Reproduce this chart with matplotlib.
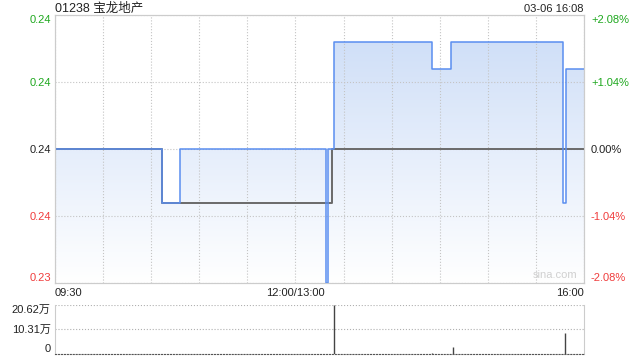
import numpy as np
import matplotlib
matplotlib.use('Agg')
import matplotlib.pyplot as plt
from matplotlib.colors import LinearSegmentedColormap

plt.rcParams['font.family'] = ['Liberation Sans', 'Noto Sans CJK SC']

title = '01238 宝龙地产'
stamp = '03-06 16:08'

# trading minutes since 09:30 (lunch break removed), value from that minute on
price_t = [0, 67, 78, 169, 170, 174, 235, 247, 317, 319, 330]
price_v = [0.240, 0.238, 0.240, 0.235, 0.240, 0.244, 0.243, 0.244, 0.238, 0.243, 0.243]
avg_t = [0, 67, 173, 330]
avg_v = [0.240, 0.238, 0.240, 0.240]
vol_t = [67, 78, 174, 235, 248, 318]
vol_v = [400, 800, 206200, 2500, 29000, 88000]

price_ticks = [0.245, 0.2425, 0.24, 0.2375, 0.235]
price_labels = ['0.24', '0.24', '0.24', '0.24', '0.23']
pct_labels = ['+2.08%', '+1.04%', '0.00%', '-1.04%', '-2.08%']
tick_colors = ['#1ea81e', '#1ea81e', '#222222', '#f03c3c', '#f03c3c']
vol_ticks = [0, 103100, 206200]
vol_labels = ['0', '10.31万', '20.62万']
time_pos = [0, 150, 330]
time_labels = ['09:30', '12:00/13:00', '16:00']

W, H = 640, 360
fig = plt.figure(figsize=(6.4, 3.6), dpi=100)
ax = fig.add_axes([55 / W, 1 - 283 / H, 529 / W, 268 / H])
ymin, ymax = price_ticks[-1], price_ticks[0]

# gradient fill under the price line
fill = ax.fill_between(price_t, price_v, ymin, step='post', color='none')
cmap = LinearSegmentedColormap.from_list('g', ['#ffffff', '#cbdcf7'])
grad = np.linspace(0, 1, 256).reshape(-1, 1)
im = ax.imshow(grad, extent=[0, 330, ymin, ymax], origin='lower', aspect='auto',
               cmap=cmap, zorder=1)
im.set_clip_path(fill.get_paths()[0], transform=ax.transData)

ax.plot(avg_t, avg_v, drawstyle='steps-post', color='#6a6a6a', lw=1.4, zorder=3)
ax.plot(price_t, price_v, drawstyle='steps-post', color='#5a8ef0', lw=1.1, zorder=4)

ax.set_xlim(0, 330)
ax.set_ylim(ymin, ymax)
ax.set_xticks(np.arange(0, 331, 30))
ax.set_xticklabels([])
ax.set_yticks(price_ticks)
ax.set_yticklabels(price_labels, fontsize=8)
ax.tick_params(length=0, pad=3)
ax.grid(True, ls=':', color='#c4c4c4', lw=0.8, zorder=0)
for s in ax.spines.values():
    s.set_color('#cccccc')

ax2 = ax.twinx()
ax2.set_ylim(ymin, ymax)
ax2.set_yticks(price_ticks)
ax2.set_yticklabels(pct_labels, fontsize=8)
ax2.tick_params(length=0, pad=5)
for s in ax2.spines.values():
    s.set_color('#cccccc')

# colour the labels and keep the outer ones inside the plot box
for a in (ax, ax2):
    labs = a.get_yticklabels()
    for lab, c in zip(labs, tick_colors):
        lab.set_color(c)
    labs[0].set_va('top')
    labs[-1].set_va('bottom')

for p, t, ha in zip(time_pos, time_labels, ['left', 'center', 'right']):
    ax.text(p, -0.018, t, transform=ax.get_xaxis_transform(), ha=ha, va='top',
            fontsize=8, color='#222222')
ax.text(0.988, 0.012, 'sina.com', transform=ax.transAxes, ha='right', va='bottom',
        fontsize=8, color='#d0d0d0')

fig.text(55 / W, 1 - 9 / H, title, ha='left', va='center', fontsize=9, color='#222222')
fig.text(584 / W, 1 - 9 / H, stamp, ha='right', va='center', fontsize=8, color='#222222')

# volume panel
vax = fig.add_axes([55 / W, 1 - 354 / H, 529 / W, 49.5 / H])
vax.vlines(vol_t, 0, vol_v, color='#444444', lw=1)
vax.set_xlim(0, 330)
vax.set_ylim(0, vol_ticks[-1])
vax.set_xticks([])
vax.set_yticks(vol_ticks)
vax.set_yticklabels(vol_labels, fontsize=8, color='#222222')
vlabs = vax.get_yticklabels()
vlabs[0].set_va('bottom')
vlabs[-1].set_va('top')
vax.tick_params(length=0, pad=3)
vax.grid(True, axis='y', ls=':', color='#b0b0b0', lw=0.8)
vax.spines['top'].set_visible(False)
vax.spines['bottom'].set_linestyle(':')
vax.spines['bottom'].set_color('#555555')
vax.spines['left'].set_color('#cccccc')
vax.spines['right'].set_color('#cccccc')

fig.savefig('out.png', dpi=100)
